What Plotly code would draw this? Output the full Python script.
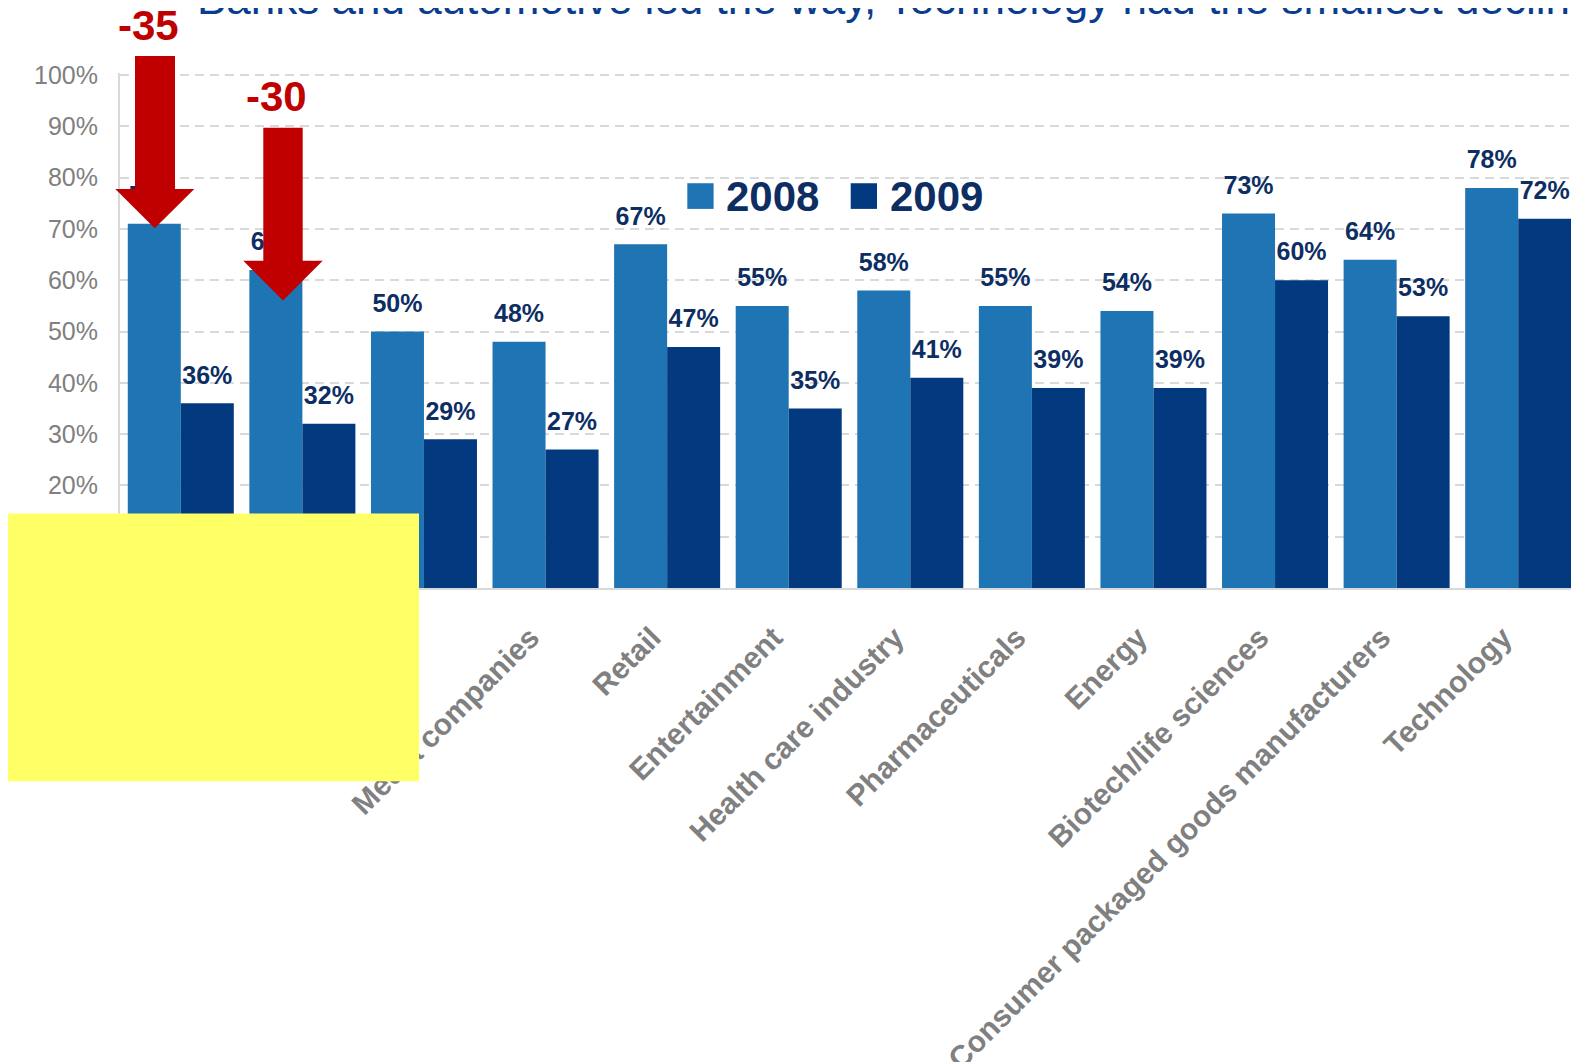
import plotly.graph_objects as go

# ---------------- data ----------------
categories = ["Banks", "Automotive", "Insurance", "Media companies", "Retail",
              "Entertainment", "Health care industry", "Pharmaceuticals", "Energy",
              "Biotech/life sciences", "Consumer packaged goods manufacturers", "Technology"]
values_2008 = [71, 62, 50, 48, 67, 55, 58, 55, 54, 73, 64, 78]
values_2009 = [36, 32, 29, 27, 47, 35, 41, 39, 39, 60, 53, 72]
series_names = ["2008", "2009"]
y_ticks = [0, 10, 20, 30, 40, 50, 60, 70, 80, 90, 100]
y_ticktext = ["0%", "10%", "20%", "30%", "40%", "50%", "60%", "70%", "80%", "90%", "100%"]
drop_labels = ["-35", "-30"]
title_text = "Banks and automotive led the way, Technology had the smallest decline"

# ---------------- layout geometry (page pixels) ----------------
OFF = 8                      # page body margin offset of the figure div
W, H = 1579 - OFF, 1062 - OFF
Y_TOP = 100.4
PL, PR = 120, 1579           # plot area left/right on the page
Y0_PAGE, Y100_PAGE = 588.5, 75.0
K = (Y0_PAGE - Y100_PAGE) / 100.0
PB = Y0_PAGE
PT = Y100_PAGE - (Y_TOP - 100) * K

C2008 = "#1F74B4"
C2009 = "#033A7F"
NAVY = "#0D2E63"
GRAY = "#808080"
RED = "#C00000"
GRID = "#D9D9D9"
FONT = "Liberation Sans, Arial, sans-serif"
BARGAP = 0.128


def px_x(x):
    return (x - PL) / (PR - PL)


def px_y(y):
    return (PB - y) / (PB - PT)


fig = go.Figure()
for name, vals, col in [(series_names[0], values_2008, C2008), (series_names[1], values_2009, C2009)]:
    fig.add_trace(go.Bar(x=categories, y=vals, name=name, marker=dict(color=col, line=dict(width=0)),
                         hoverinfo="skip", showlegend=False))
for name, vals in [(series_names[0], values_2008), (series_names[1], values_2009)]:
    fig.add_trace(go.Scatter(x=categories, y=vals, mode="markers+text",
                             text=[f"{v}%" for v in vals], textposition="top center",
                             textfont=dict(family=FONT, size=25, color=NAVY, weight="bold"),
                             marker=dict(size=20, color="rgba(0,0,0,0)"),
                             cliponaxis=False, hoverinfo="skip", showlegend=False))

shapes = []
# red drop arrows (pixel geometry)
arrows = [
    dict(l=135, r=175, top=56, neck=189, hl=115.3, hr=194.3, tipx=154.7, tipy=228.3),
    dict(l=263.3, r=302.7, top=127.7, neck=261, hl=243.3, hr=322.7, tipx=283, tipy=300.7),
]
for a in arrows:
    pts = [(a["l"], a["top"]), (a["r"], a["top"]), (a["r"], a["neck"]), (a["hr"], a["neck"]),
           (a["tipx"], a["tipy"]), (a["hl"], a["neck"]), (a["l"], a["neck"])]
    path = "M " + " L ".join(f"{px_x(x):.5f},{px_y(y):.5f}" for x, y in pts) + " Z"
    shapes.append(dict(type="path", path=path, xref="paper", yref="paper",
                       fillcolor=RED, line=dict(width=0), layer="above"))

# legend swatches
for x0, col in [(687.3, C2008), (850.7, C2009)]:
    shapes.append(dict(type="rect", xref="paper", yref="paper",
                       x0=px_x(x0), x1=px_x(x0 + 26.3), y0=px_y(209), y1=px_y(183.3),
                       fillcolor=col, line=dict(width=0), layer="above"))

# yellow box
shapes.append(dict(type="rect", xref="paper", yref="paper",
                   x0=px_x(7), x1=px_x(419), y0=px_y(782), y1=px_y(514),
                   fillcolor="#FFFF66", line=dict(width=0), layer="above"))

annotations = []
# legend texts
for xl, name in [(726, series_names[0]), (890, series_names[1])]:
    annotations.append(dict(text=name, xref="paper", yref="paper", x=px_x(xl - 2), y=px_y(197),
                            xanchor="left", yanchor="middle", showarrow=False,
                            font=dict(family=FONT, size=42, color=NAVY, weight="bold")))
# drop labels
for cx, cy, t in [(148.3, 25, drop_labels[0]), (276.7, 96.7, drop_labels[1])]:
    annotations.append(dict(text=t, xref="paper", yref="paper", x=px_x(cx), y=px_y(cy),
                            xanchor="center", yanchor="middle", showarrow=False,
                            font=dict(family=FONT, size=42, color=RED, weight="bold")))
# title
annotations.append(dict(text=title_text, xref="paper", yref="paper", x=px_x(195), y=px_y(25),
                        xanchor="left", yanchor="bottom", showarrow=False,
                        font=dict(family=FONT, size=44, color="#0A3D8F")))

fig.update_layout(
    width=W, height=H,
    margin=dict(l=PL - OFF, r=(1579 - PR), t=PT - OFF, b=(1062 - PB), pad=0, autoexpand=False),
    paper_bgcolor="white", plot_bgcolor="white",
    barmode="group", bargap=BARGAP, bargroupgap=0,
    scattermode="group", scattergap=BARGAP,
    showlegend=False,
    shapes=shapes, annotations=annotations,
    font=dict(family=FONT),
)
fig.update_xaxes(type="category", showline=True, linecolor=GRID, linewidth=2,
                 showgrid=False, ticks="", tickangle=-45, ticklabelstandoff=18,
                 ticklabelshift=-15,
                 tickfont=dict(family=FONT, size=30, color=GRAY, weight="bold"))
fig.update_yaxes(range=[0, Y_TOP], tickvals=y_ticks, ticktext=y_ticktext, showline=True,
                 linecolor=GRID, linewidth=2, showgrid=True, gridcolor=GRID, gridwidth=1.5,
                 griddash="9px,6px", zeroline=False, ticks="", ticklabelstandoff=15,
                 tickfont=dict(family=FONT, size=25, color=GRAY))

fig.write_html("out.html")
